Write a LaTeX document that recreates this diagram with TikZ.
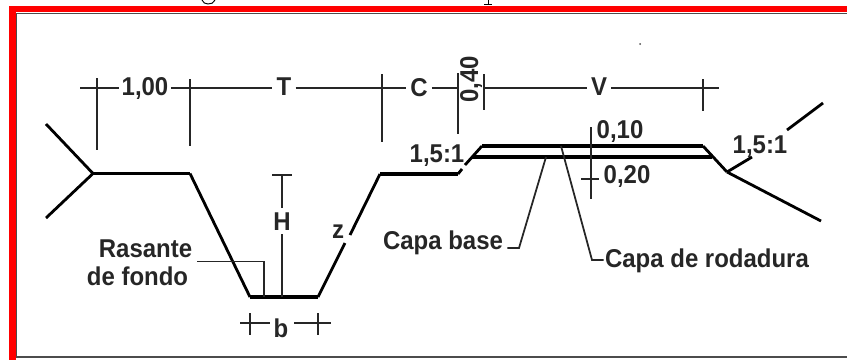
\documentclass[tikz,border=0pt]{standalone}
\usepackage{fontspec}
\setmainfont[FakeStretch=0.93]{Liberation Sans}
\tikzset{
	lbl/.style={anchor=base,inner xsep=3.5pt,inner ysep=3.5pt,font=\fontsize{22}{25}\selectfont\bfseries,black!85},
	dimline/.style={line width=1.5pt,black!85},
	leader/.style={line width=1.5pt,black!85},
	slope/.style={line width=2.4pt,line join=round},
	road/.style={line width=3.4pt,line join=miter}
}
\begin{document}
\begin{tikzpicture}[x=0.03cm,y=-0.03cm]
		\useasboundingbox (0,0) rectangle (847,360);
		% marco
		\fill [red] (9,6) rectangle (847,12);
		\fill [red] (9,6) rectangle (15.5,360);
		\draw [line width=1.4pt,black!70] (847,13.5) -- (16.5,13.5) -- (16.5,357) -- (847,357);
		% restos del titulo
		\draw [line width=0.8pt] (202,0) to [out=290,in=180] (208,4) to [out=0,in=250] (215,0);
		\draw [line width=0.8pt] (488,0) -- (488,4);
		\draw [line width=0.8pt] (484,4.5) -- (492,4.5);
		\fill [black!70] (640,44) circle (1);
		% puntos del perfil
		\coordinate (bordeL) at (93,173.5);
		\coordinate (canalL) at (190,173.5);
		\coordinate (fondoL) at (250,297);
		\coordinate (fondoR) at (318,297);
		\coordinate (canalR) at (380,174);
		\coordinate (bermaR) at (458,174);
		\coordinate (viaTL) at (482,146);
		\coordinate (viaTR) at (703,146);
		\coordinate (viaBL) at (472,157);
		\coordinate (viaBR) at (712,157);
		\coordinate (pie) at (727,172);
		% perfil
		\draw [slope] (46,124) -- (bordeL) -- (46,218);
		\draw [road] (bordeL) -- (canalL);
		\draw [slope] (canalL) -- (fondoL);
		\draw [road] (fondoL) -- (fondoR);
		\draw [slope] (fondoR) -- (345,243);
		\draw [slope] (350,235) -- (canalR);
		\draw [road] (canalR) -- (bermaR);
		\draw [slope] (bermaR) -- (462,169);
		\draw [slope] (465,165) -- (viaTL);
		\draw [road] (viaTL) -- (viaTR);
		\draw [road] (viaBL) -- (viaBR);
		\draw [slope] (viaTR) -- (pie);
		\draw [slope] (pie) -- (821,221);
		\draw [slope] (pie) -- (752,157);
		\draw [slope] (787,130) -- (823,103);
		% cotas de arriba
		\node [lbl,inner xsep=2pt] (uno) at (145,95) {1,00};
		\node [lbl] (tee) at (284,95) {T};
		\node [lbl] (cee) at (419,96) {C};
		\node [lbl,rotate=90] (cuarenta) at (478,79) {0,40};
		\node [lbl] (uve) at (599,95) {V};
		\coordinate (dimA) at (80,88);
		\coordinate (dimB) at (719,88);
		\draw [dimline] (dimA) -- (dimA -| uno.west);
		\draw [dimline] (dimA -| uno.east) -- (dimA -| tee.west);
		\draw [dimline] (dimA -| tee.east) -- (dimA -| cee.west);
		\draw [dimline] (dimA -| cee.east) -- (458,88);
		\draw [dimline] (484,88) -- (dimA -| uve.west);
		\draw [dimline] (dimA -| uve.east) -- (dimB);
		\draw [dimline] (97,78) -- (97,150);
		\draw [dimline] (190,79) -- (190,146);
		\draw [dimline] (382,74) -- (382,142);
		\draw [dimline] (458,73) -- (458,134);
		\draw [dimline] (484,74) -- (484,110);
		\draw [dimline] (703,79) -- (703,111);
		% cotas del canal
		\node [lbl] (hache) at (282,230) {H};
		\node [lbl] (zeta) at (338,238) {z};
		\node [lbl] (bee) at (281,337) {b};
		\draw [dimline] (272,175) -- (292,175);
		\draw [dimline] (282,175) -- (hache.north);
		\draw [dimline] (hache.south) -- (282,297);
		\draw [dimline] (250,313) -- (250,335);
		\draw [dimline] (318,313) -- (318,335);
		\draw [dimline] (240,323) -- (270,323);
		\draw [dimline] (294,323) -- (331,323);
		\node [lbl] (rasante) at (145.5,257) {Rasante};
		\node [lbl] (fondo) at (137.5,285) {de fondo};
		\coordinate (rasA) at (197,261.5);
		\draw [leader] (rasA) -- (264,261.5) -- (264,297);
		% capas
		\node [lbl] (base) at (443,249) {Capa base};
		\node [lbl,inner xsep=1pt] (rodadura) at (707,267) {Capa de rodadura};
		\draw [leader] (base.east |- 0,248) -- (519,248) -- (546,157);
		\draw [leader] (rodadura.west |- 0,260) -- (592,260) -- (561,146);
		% espesores y taludes
		\node [lbl] (diez) at (620,138) {0,10};
		\node [lbl] (veinte) at (627,183) {0,20};
		\draw [dimline] (591,127) -- (591,199);
		\draw [dimline] (581,179) -- (veinte.west |- 0,179);
		\node [lbl] (taludL) at (437,162) {1,5:1};
		\node [lbl] (taludR) at (760,153) {1,5:1};
\end{tikzpicture}
\end{document}
